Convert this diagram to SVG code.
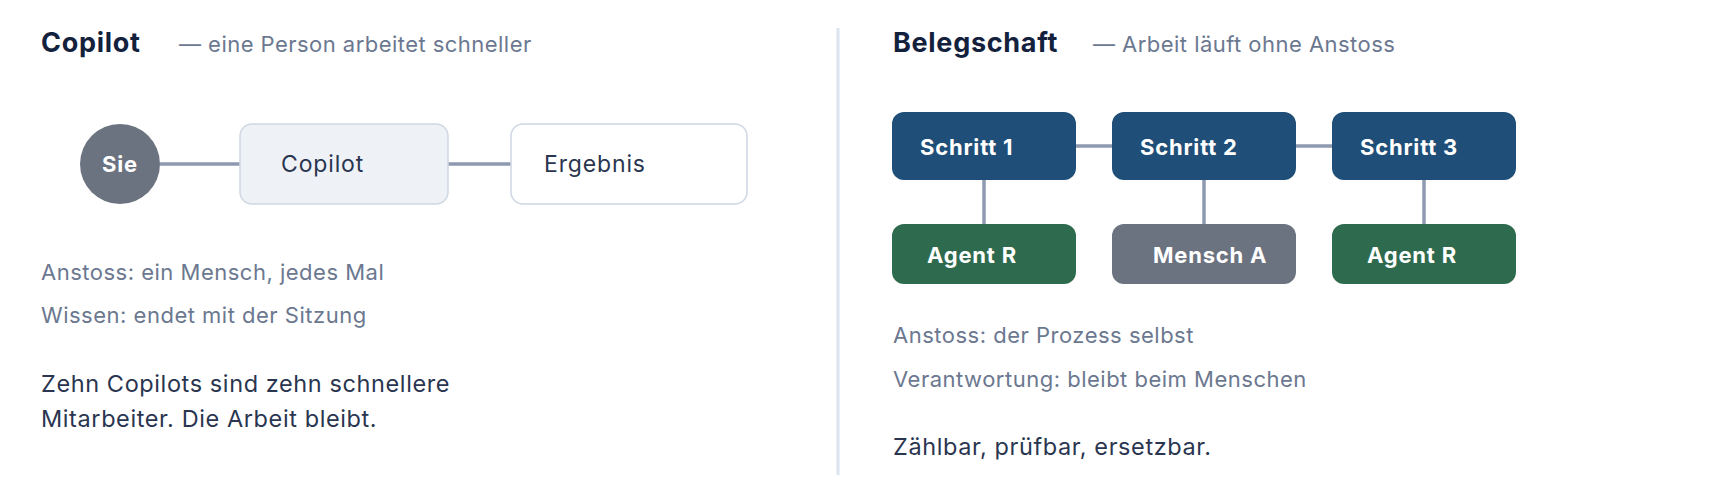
<svg xmlns="http://www.w3.org/2000/svg" width="1720" height="500" viewBox="0 0 1720 500">
<style>
text{font-family:Inter,"Liberation Sans",sans-serif}
.title{font-size:27px;font-weight:700;fill:#13213d;letter-spacing:0.7px}
.sub{font-size:22px;fill:#6b7890;letter-spacing:0.46px}
.note{font-size:22px;fill:#6b7890;letter-spacing:0.5px}
.body{font-size:23.5px;fill:#2a3550;letter-spacing:0.6px}
.lbl{font-size:23px;fill:#2a3550;letter-spacing:0.85px}
.wl{font-size:22px;font-weight:700;fill:#ffffff;letter-spacing:0.8px}
.conn{stroke:#8e9ab0;stroke-width:3.5;fill:none}
.step{fill:#1f4e79}
.agent{fill:#2e6b4e}
.human{fill:#6b7280}
</style>
<rect width="1720" height="500" fill="#ffffff"/>
<text class="title" x="41" y="52">Copilot</text>
<text class="sub" x="179" y="52">— eine Person arbeitet schneller</text>
<g id="connectors">
<line class="conn" x1="160" y1="164" x2="240" y2="164"/>
<line class="conn" x1="448" y1="164" x2="511" y2="164"/>
<line class="conn" x1="1076" y1="146" x2="1112" y2="146"/>
<line class="conn" x1="1296" y1="146" x2="1332" y2="146"/>
<line class="conn" x1="984" y1="180" x2="984" y2="224"/>
<line class="conn" x1="1204" y1="180" x2="1204" y2="224"/>
<line class="conn" x1="1424" y1="180" x2="1424" y2="224"/>
</g>
<g id="sie"><circle cx="120" cy="164" r="40" fill="#6b7280"/><text class="wl" x="120" y="172" text-anchor="middle">Sie</text></g>
<g id="copilot"><rect x="240" y="124" width="208" height="80" rx="12" fill="#eef2f7" stroke="#cfd7e3" stroke-width="1.5"/><text class="lbl" x="281" y="172">Copilot</text></g>
<g id="ergebnis"><rect x="511" y="124" width="236" height="80" rx="12" fill="#ffffff" stroke="#cfd7e3" stroke-width="1.5"/><text class="lbl" x="544" y="172">Ergebnis</text></g>
<text class="note" x="41" y="280">Anstoss: ein Mensch, jedes Mal</text>
<text class="note" x="41" y="323">Wissen: endet mit der Sitzung</text>
<text class="body" x="41" y="392">Zehn Copilots sind zehn schnellere</text>
<text class="body" x="41" y="427">Mitarbeiter. Die Arbeit bleibt.</text>
<line x1="838" y1="28" x2="838" y2="475" stroke="#dce4ef" stroke-width="3"/>
<text class="title" x="893" y="52">Belegschaft</text>
<text class="sub" x="1093" y="52">— Arbeit läuft ohne Anstoss</text>
<g id="schritt1"><rect class="step" x="892" y="112" width="184" height="68" rx="12"/><text class="wl" x="920" y="155">Schritt 1</text></g>
<g id="schritt2"><rect class="step" x="1112" y="112" width="184" height="68" rx="12"/><text class="wl" x="1140" y="155">Schritt 2</text></g>
<g id="schritt3"><rect class="step" x="1332" y="112" width="184" height="68" rx="12"/><text class="wl" x="1360" y="155">Schritt 3</text></g>
<g id="agent1"><rect class="agent" x="892" y="224" width="184" height="60" rx="12"/><text class="wl" x="927" y="263">Agent R</text></g>
<g id="mensch"><rect class="human" x="1112" y="224" width="184" height="60" rx="12"/><text class="wl" x="1153" y="263">Mensch A</text></g>
<g id="agent2"><rect class="agent" x="1332" y="224" width="184" height="60" rx="12"/><text class="wl" x="1367" y="263">Agent R</text></g>
<text class="note" x="893" y="343">Anstoss: der Prozess selbst</text>
<text class="note" x="893" y="387">Verantwortung: bleibt beim Menschen</text>
<text class="body" x="893" y="455">Zählbar, prüfbar, ersetzbar.</text>
</svg>
